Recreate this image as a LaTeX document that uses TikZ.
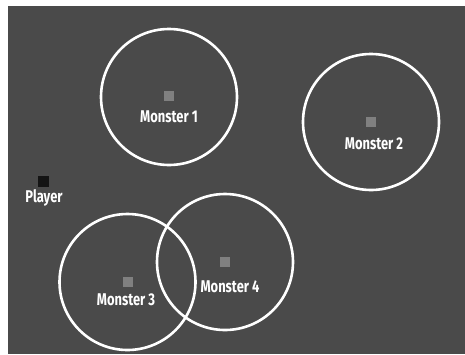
\documentclass[tikz,border=0pt]{standalone}
\usepackage{fontspec}
\setsansfont{Fira Sans}
\definecolor{bg}{HTML}{4A4A4A}
\definecolor{mon}{HTML}{808080}
\definecolor{ply}{HTML}{141414}
\newcommand{\cond}[1]{\scalebox{0.76}[1]{#1}}
\begin{document}
\begin{tikzpicture}[x=1pt,y=-1pt,
  ring/.style={draw=white,line width=2.6pt,circle,minimum size=136pt,inner sep=0pt},
  mon/.style={fill=mon,minimum size=10pt,inner sep=0pt},
  plyr/.style={fill=ply,minimum size=11pt,inner sep=0pt},
  lab/.style={text=white,font=\sffamily\bfseries\fontsize{17}{17}\selectfont,inner sep=0pt}]
\useasboundingbox (0,0) rectangle (465,354);
\fill[white] (0,0) rectangle (465,354);
\fill[bg] (8,6) rectangle (465,354);
\node[ring] (c1) at (169,97) {};
\node[ring] (c2) at (371,122) {};
\node[ring] (c3) at (127.5,282) {};
\node[ring] (c4) at (225,262) {};
\node[mon] (m1) at (169,96) {};
\node[mon] (m2) at (371,122) {};
\node[mon] (m3) at (128,282) {};
\node[mon] (m4) at (225,262) {};
\node[plyr] (p) at (43,181) {};
\node[lab] (l1) at (169,117) {\cond{Monster 1}};
\node[lab] (l2) at (374,144) {\cond{Monster 2}};
\node[lab] (l3) at (126,300) {\cond{Monster 3}};
\node[lab] (l4) at (230,287) {\cond{Monster 4}};
\node[lab] (lp) at (44,198) {\cond{Player}};
\end{tikzpicture}
\end{document}
